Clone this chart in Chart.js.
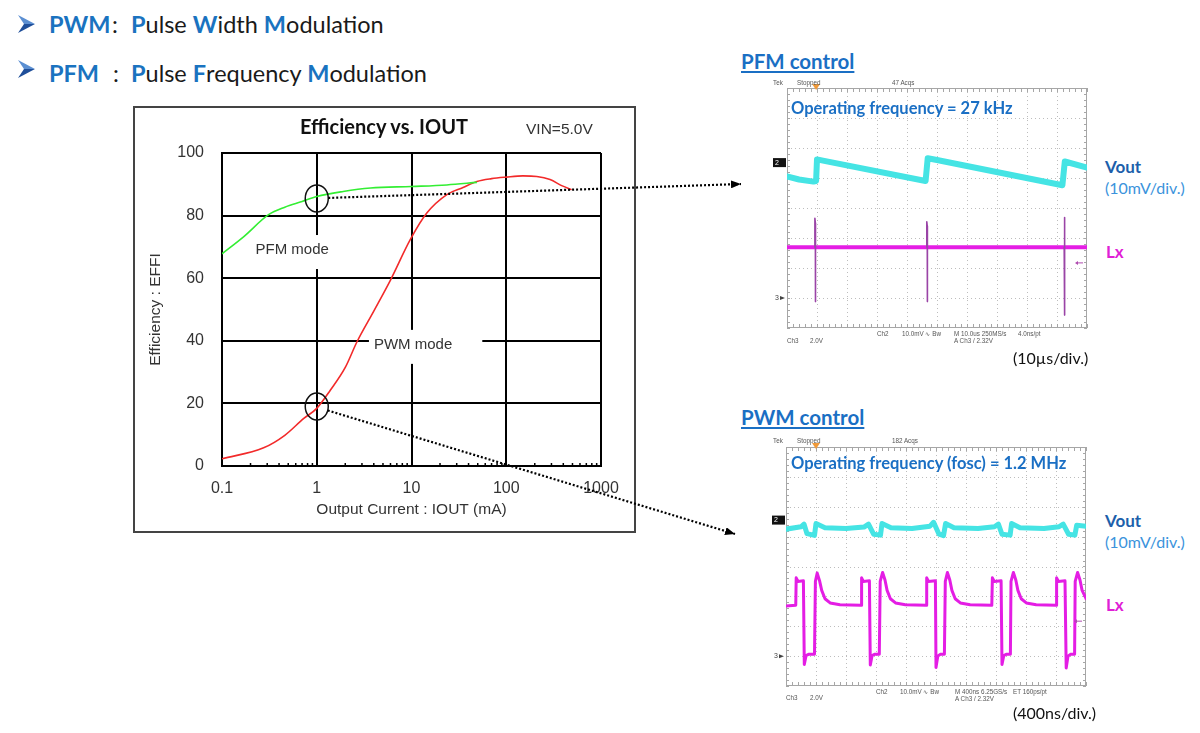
<!DOCTYPE html>
<html lang="en">
<head>
<meta charset="UTF-8">
<title>PWM / PFM</title>
<script src="https://cdn.jsdelivr.net/npm/chart.js@4"></script>
<style>
  body { margin: 0; width: 1200px; height: 733px; background: #fff; position: relative; overflow: hidden; font-family: Lato, sans-serif; }
  .abs { position: absolute; white-space: nowrap; }
  .row { font-size: 23.5px; line-height: 28px; color: #1a1a1a; }
  .hi { color: #1a73c0; font-weight: bold; }
  .blue { color: #1a6fc4; font-weight: bold; }
  .ctl { font-size: 20.5px; line-height: 22px; text-decoration: underline; text-underline-offset: 2px; text-decoration-thickness: 1.5px; }
  .freq { font-size: 16.5px; line-height: 20px; z-index: 3; }
  .vout { font-size: 17px; line-height: 20px; color: #1d5fab; font-weight: bold; }
  .div { font-size: 16px; line-height: 18px; color: #3b93dc; }
  .lx { font-size: 17px; line-height: 20px; color: #e020d6; font-weight: bold; }
  .tb { font-size: 16px; line-height: 18px; color: #111; }
  .sc { font-family: "Liberation Sans", sans-serif; font-size: 6.3px; line-height: 8px; color: #555; }
  .ea { font-family: "Liberation Sans", sans-serif; color: #333; }
  #effFrame { position: absolute; left: 133px; top: 106px; width: 503px; height: 427px; border: 2px solid #444; box-sizing: border-box; }
  #eff { position: absolute; left: 0; top: 0; }
  #arrows { position: absolute; left: 0; top: 0; z-index: 5; pointer-events: none; }
</style>
</head>
<body>
  <!-- bullets -->
  <svg class="abs" style="left:0;top:0" width="60" height="100">
    <polygon points="18,15 35,24 24,24" fill="#5b8fd2"/>
    <polygon points="24,24 35,24 18,33" fill="#1f4f9a"/>
    <polygon points="18,60 35,69 24,69" fill="#5b8fd2"/>
    <polygon points="24,69 35,69 18,78" fill="#1f4f9a"/>
  </svg>
  <div class="abs row hi" style="left:49px;top:10px">PWM</div>
  <div class="abs row" style="left:112px;top:10px">:</div>
  <div class="abs row" style="left:131px;top:10px"><span class="hi">P</span>ulse <span class="hi">W</span>idth <span class="hi">M</span>odulation</div>
  <div class="abs row hi" style="left:49px;top:59px">PFM</div>
  <div class="abs row" style="left:113px;top:59px">:</div>
  <div class="abs row" style="left:131px;top:59px"><span class="hi">P</span>ulse <span class="hi">F</span>requency <span class="hi">M</span>odulation</div>

  <!-- efficiency chart -->
  <div id="effFrame"><canvas id="eff" width="499" height="423"></canvas></div>
  <div class="abs" style="left:384px;top:114px;transform:translateX(-50%);font-size:20px;line-height:24px;font-weight:bold;color:#111">Efficiency vs. IOUT</div>
  <div class="abs ea" style="left:526px;top:120px;font-size:15.5px;line-height:18px">VIN=5.0V</div>

  <!-- PFM scope -->
  <div class="abs blue ctl" style="left:741px;top:50px">PFM control</div>
  <canvas id="pfm" class="abs" style="left:765px;top:76px" width="335" height="272"></canvas>
  <div class="abs blue freq" style="left:791px;top:98px">Operating frequency = 27 kHz</div>
  <div class="abs sc" style="left:773px;top:79px">Tek</div>
  <div class="abs sc" style="left:797px;top:79px">Stopped</div>
  <div class="abs sc" style="left:892px;top:79px">47 Acqs</div>
  <div class="abs sc" style="left:787px;top:337px">Ch3</div>
  <div class="abs sc" style="left:810px;top:337px">2.0V</div>
  <div class="abs sc" style="left:877px;top:330px">Ch2</div>
  <div class="abs sc" style="left:902px;top:330px">10.0mV ∿ Bw</div>
  <div class="abs sc" style="left:954px;top:330px">M 10.0us 250MS/s</div>
  <div class="abs sc" style="left:1018px;top:330px">4.0ns/pt</div>
  <div class="abs sc" style="left:954px;top:337px">A Ch3 / 2.32V</div>
  <div class="abs vout" style="left:1105px;top:157px">Vout</div>
  <div class="abs div" style="left:1105px;top:179px">(10mV/div.)</div>
  <div class="abs lx" style="left:1106px;top:242px">Lx</div>
  <div class="abs tb" style="left:1013px;top:349px">(10µs/div.)</div>

  <!-- PWM scope -->
  <div class="abs blue ctl" style="left:741px;top:406px">PWM control</div>
  <canvas id="pwm" class="abs" style="left:765px;top:432px" width="335" height="272"></canvas>
  <div class="abs blue freq" style="left:791px;top:453px">Operating frequency (fosc) = 1.2 MHz</div>
  <div class="abs sc" style="left:773px;top:437px">Tek</div>
  <div class="abs sc" style="left:797px;top:437px">Stopped</div>
  <div class="abs sc" style="left:892px;top:437px">182 Acqs</div>
  <div class="abs sc" style="left:786px;top:694px">Ch3</div>
  <div class="abs sc" style="left:810px;top:694px">2.0V</div>
  <div class="abs sc" style="left:876px;top:688px">Ch2</div>
  <div class="abs sc" style="left:900px;top:688px">10.0mV ∿ Bw</div>
  <div class="abs sc" style="left:955px;top:688px">M 400ns 6.25GS/s</div>
  <div class="abs sc" style="left:1013px;top:688px">ET 160ps/pt</div>
  <div class="abs sc" style="left:955px;top:695px">A Ch3 / 2.32V</div>
  <div class="abs vout" style="left:1105px;top:511px">Vout</div>
  <div class="abs div" style="left:1105px;top:533px">(10mV/div.)</div>
  <div class="abs lx" style="left:1106px;top:595px">Lx</div>
  <div class="abs tb" style="left:1013px;top:704px">(400ns/div.)</div>

  <svg id="arrows" width="1200" height="733">
    <defs>
      <marker id="head" markerWidth="10" markerHeight="8" refX="10" refY="4" orient="auto" markerUnits="userSpaceOnUse">
        <path d="M0,0 L10,4 L0,8 z" fill="#000"/>
      </marker>
    </defs>
    <line id="arrow0" stroke="#000" stroke-width="2.2" stroke-dasharray="2 2" marker-end="url(#head)"/>
    <line id="arrow1" stroke="#000" stroke-width="2.2" stroke-dasharray="2 2" marker-end="url(#head)"/>
  </svg>

<script>
  Chart.defaults.font.family = '"Liberation Sans", Arial, sans-serif';
  Chart.defaults.animation = false;

  // Efficiency vs IOUT (mA, %)
  const xTicks = [0.1, 1, 10, 100, 1000];
  const yTicks = [0, 20, 40, 60, 80, 100];
  const minorTicks = [0.2, 0.3, 0.4, 0.5, 0.6, 0.7, 0.8, 0.9, 2, 3, 4, 5, 6, 7, 8, 9,
    20, 30, 40, 50, 60, 70, 80, 90, 200, 300, 400, 500, 600, 700, 800, 900];
  const pfmCurrent = [0.1, 0.17, 0.31, 0.46, 0.7, 1.0, 1.9, 3.7, 10, 23.6, 49];
  const pfmEff = [67.8, 73.3, 80.3, 82.7, 84.5, 86.1, 87.7, 88.8, 89.3, 89.8, 90.6];
  const pwmCurrent = [0.1, 0.275, 0.46, 0.73, 1.0, 1.39, 2.0, 2.66, 4, 6.0, 9.7, 14.5, 23.6, 35, 49, 70, 100, 150, 210, 290, 390, 490];
  const pwmEff = [2.3, 5.8, 9.8, 15.2, 18.4, 24.2, 31.5, 39.7, 49.5, 59.4, 72.3, 80.8, 86.7, 89, 90.9, 91.8, 92.3, 92.7, 92.5, 91.5, 89.5, 88.3];
  const modeLabels = ['PFM mode', 'PWM mode'];
  const modeX = [0.55, 10.4];
  const modeY = [69, 38.7];
  const markerX = [1, 1];
  const markerY = [85.5, 19];
  const arrowEnds = [[741, 184], [735, 534]];

  // PFM scope: time in us, level in divisions
  const pfmVoutT = [0, 4, 8.8, 9.7, 10.0, 12, 46.2, 46.9, 50, 91.8, 92.6, 100];
  const pfmVoutV = [5.05, 4.95, 4.88, 4.9, 5.62, 5.58, 4.9, 5.66, 5.6, 4.76, 5.55, 5.35];
  const pfmLxT = [0, 100];
  const pfmLxV = [2.69, 2.69];
  const pfmSpikeT = [9.3, 9.3, 9.45, 9.45, 9.55, 30, 46.6, 46.6, 46.75, 46.75, 46.85, 70, 92.4, 92.4, 92.55, 92.55, 92.65];
  const pfmSpikeV = [2.69, 3.66, 3.5, 0.88, 2.69, null, 2.69, 3.54, 3.4, 0.88, 2.69, null, 2.69, 3.68, 3.5, 0.43, 2.69];

  // PWM scope: time in ns, level in divisions
  const pwmVoutT = [0, 200, 240, 280, 380, 400, 520, 800, 1040, 1100, 1168, 1260, 1280, 1400, 1680, 1920, 1968, 2040, 2100, 2128,
    2240, 2560, 2780, 2832, 2880, 2988, 3008, 3120, 3440, 3640, 3696, 3768, 3852, 3876, 4000];
  const pwmVoutV = [5.25, 5.33, 5.42, 5.1, 5.04, 5.44, 5.3, 5.27, 5.32, 5.42, 5.08, 5.05, 5.44, 5.3, 5.27, 5.35, 5.48, 5.08, 5.03, 5.44,
    5.3, 5.27, 5.33, 5.42, 5.08, 5.05, 5.44, 5.3, 5.27, 5.33, 5.42, 5.08, 5.05, 5.38, 5.35];
  const pwmLxT = [0, 130, 136, 160, 232, 244, 268, 300, 380, 392, 416, 448, 476, 520, 588, 720, 1000,
    1008, 1030, 1112, 1124, 1148, 1180, 1244, 1256, 1288, 1320, 1348, 1392, 1460, 1592, 1868,
    1876, 1900, 1992, 2000, 2024, 2056, 2112, 2124, 2152, 2184, 2212, 2256, 2324, 2456, 2744,
    2752, 2776, 2868, 2880, 2904, 2936, 2992, 3000, 3032, 3064, 3092, 3136, 3204, 3336, 3600,
    3608, 3632, 3720, 3736, 3760, 3792, 3848, 3856, 3888, 3920, 3948, 3996, 4000];
  const pwmLxV = [2.68, 2.7, 3.62, 3.5, 3.52, 0.72, 1.02, 1.06, 1.06, 3.5, 3.78, 3.52, 3.2, 2.92, 2.78, 2.72, 2.7,
    3.62, 3.5, 3.52, 0.7, 1.02, 1.06, 1.06, 3.5, 3.8, 3.55, 3.2, 2.92, 2.78, 2.72, 2.7,
    3.62, 3.5, 3.52, 0.62, 1.0, 1.06, 1.06, 3.5, 3.8, 3.55, 3.2, 2.92, 2.78, 2.72, 2.7,
    3.62, 3.5, 3.52, 0.72, 1.02, 1.06, 1.06, 3.5, 3.8, 3.55, 3.2, 2.92, 2.78, 2.72, 2.7,
    3.62, 3.5, 3.52, 0.6, 1.0, 1.06, 1.06, 3.5, 3.8, 3.55, 3.2, 2.95, 2.92];

  const pts = (xs, ys) => xs.map((v, i) => ({ x: v, y: ys[i] }));

  // minor ticks, white label boxes, circles and arrows on the efficiency chart
  const effDecor = {
    id: 'effDecor',
    beforeDatasetsDraw(chart) {
      const { ctx, scales: { x, y } } = chart;
      ctx.save();
      ctx.strokeStyle = '#000';
      ctx.lineWidth = 1.5;
      minorTicks.forEach(v => {
        const px = x.getPixelForValue(v);
        ctx.beginPath();
        ctx.moveTo(px, y.bottom);
        ctx.lineTo(px, y.bottom - 3);
        ctx.stroke();
      });
      ctx.font = '15px "Liberation Sans"';
      ctx.textAlign = 'center';
      ctx.textBaseline = 'middle';
      const pads = [[7, 7], [5, 30]];
      modeLabels.forEach((t, i) => {
        const px = x.getPixelForValue(modeX[i]);
        const py = y.getPixelForValue(modeY[i]);
        const w = ctx.measureText(t).width;
        ctx.fillStyle = '#fff';
        ctx.fillRect(px - w / 2 - pads[i][0], py - 15, w + pads[i][0] + pads[i][1], 34);
        ctx.fillStyle = '#333';
        ctx.fillText(t, px, py);
      });
      ctx.restore();
    },
    afterDraw(chart) {
      const { ctx, scales: { x, y } } = chart;
      const rect = chart.canvas.getBoundingClientRect();
      ctx.save();
      ctx.strokeStyle = '#111';
      ctx.lineWidth = 1.5;
      markerX.forEach((v, i) => {
        const cx = x.getPixelForValue(v);
        const cy = y.getPixelForValue(markerY[i]);
        ctx.beginPath();
        ctx.ellipse(cx, cy, 11.5, 13.5, 0, 0, 2 * Math.PI);
        ctx.stroke();
        const sx = rect.left + cx, sy = rect.top + cy;
        const [ex, ey] = arrowEnds[i];
        const ang = Math.atan2(ey - sy, ex - sx);
        const line = document.getElementById('arrow' + i);
        line.setAttribute('x1', sx + 11.5 * Math.cos(ang));
        line.setAttribute('y1', sy + 13.5 * Math.sin(ang));
        line.setAttribute('x2', ex);
        line.setAttribute('y2', ey);
      });
      ctx.restore();
    }
  };

  new Chart(document.getElementById('eff'), {
    type: 'line',
    data: {
      datasets: [
        { label: 'PFM', data: pts(pfmCurrent, pfmEff), borderColor: '#33ee33', borderWidth: 1.6, pointRadius: 0, cubicInterpolationMode: 'monotone' },
        { label: 'PWM', data: pts(pwmCurrent, pwmEff), borderColor: '#f22a2a', borderWidth: 1.6, pointRadius: 0, cubicInterpolationMode: 'monotone' }
      ]
    },
    options: {
      responsive: false,
      layout: { padding: { left: 0, top: 45, right: 33, bottom: 0 } },
      plugins: { legend: { display: false }, tooltip: { enabled: false } },
      scales: {
        x: {
          type: 'logarithmic', min: 0.1, max: 1000,
          afterBuildTicks: s => { s.ticks = xTicks.map(v => ({ value: v })); },
          afterFit: s => { s.height = 65; },
          ticks: { callback: v => String(v), color: '#333', font: { size: 16 }, padding: 13, maxRotation: 0, autoSkip: false },
          grid: { color: '#000', lineWidth: 2, drawTicks: false },
          border: { color: '#000', width: 2 },
          title: { display: true, text: 'Output Current : IOUT (mA)', color: '#333', font: { size: 15.5 }, padding: { top: 0, bottom: 12 } }
        },
        y: {
          min: 0, max: 100,
          afterBuildTicks: s => { s.ticks = yTicks.map(v => ({ value: v })); },
          afterFit: s => { s.width = 87; },
          ticks: { color: '#333', font: { size: 16 }, padding: 18 },
          grid: { color: '#000', lineWidth: 2, drawTicks: false },
          border: { color: '#000', width: 2 },
          title: { display: true, text: 'Efficiency : EFFI', color: '#333', font: { size: 15.5 }, padding: { top: 11, bottom: 0 } }
        }
      }
    },
    plugins: [effDecor]
  });

  // oscilloscope graticule and markers
  const scopeDecor = {
    id: 'scopeDecor',
    beforeDatasetsDraw(chart, args, o) {
      const { ctx, chartArea: a, scales: { x, y } } = chart;
      ctx.save();
      ctx.strokeStyle = '#bdbdbd';
      ctx.lineWidth = 1;
      ctx.setLineDash([1, 3]);
      for (let v = x.min + o.stepX; v < x.max - o.stepX / 2; v += o.stepX) {
        const px = Math.round(x.getPixelForValue(v)) + 0.5;
        ctx.beginPath(); ctx.moveTo(px, a.top); ctx.lineTo(px, a.bottom); ctx.stroke();
      }
      for (let v = y.min + 1; v < y.max - 0.5; v += 1) {
        const py = Math.round(y.getPixelForValue(v)) + 0.5;
        ctx.beginPath(); ctx.moveTo(a.left, py); ctx.lineTo(a.right, py); ctx.stroke();
      }
      ctx.setLineDash([]);
      ctx.strokeStyle = '#a6a6a6';
      ctx.strokeRect(a.left + 0.5, a.top + 0.5, a.width - 1, a.height - 1);
      for (let v = x.min; v <= x.max + 1e-6; v += o.stepX / 5) {
        const px = Math.round(x.getPixelForValue(v)) + 0.5;
        ctx.beginPath();
        ctx.moveTo(px, a.top); ctx.lineTo(px, a.top + 4);
        ctx.moveTo(px, a.bottom); ctx.lineTo(px, a.bottom - 4);
        ctx.stroke();
      }
      for (let v = y.min; v <= y.max + 1e-6; v += 0.2) {
        const py = Math.round(y.getPixelForValue(v)) + 0.5;
        ctx.beginPath();
        ctx.moveTo(a.left, py); ctx.lineTo(a.left + 3, py);
        ctx.moveTo(a.right, py); ctx.lineTo(a.right - 3, py);
        ctx.stroke();
      }
      ctx.restore();
    },
    afterDatasetsDraw(chart, args, o) {
      const { ctx, chartArea: a, scales: { x, y } } = chart;
      ctx.save();
      // trigger position
      const tx = x.getPixelForValue(o.trigX);
      ctx.fillStyle = '#f09a3a';
      ctx.beginPath();
      ctx.moveTo(tx - 4, a.top - 4); ctx.lineTo(tx + 4, a.top - 4); ctx.lineTo(tx, a.top + 2);
      ctx.closePath(); ctx.fill();
      // channel 2 reference
      const c2 = y.getPixelForValue(o.ch2Y);
      ctx.fillStyle = '#111';
      ctx.fillRect(a.left - 14, c2 - 4, 13, 9);
      ctx.fillStyle = '#fff';
      ctx.font = '7px "Liberation Sans"';
      ctx.textBaseline = 'middle';
      ctx.fillText('2', a.left - 12, c2 + 0.5);
      // channel 3 reference
      const c3 = y.getPixelForValue(o.ch3Y);
      ctx.fillStyle = '#444';
      ctx.fillText('3', a.left - 12, c3);
      ctx.beginPath();
      ctx.moveTo(a.left - 7, c3 - 2); ctx.lineTo(a.left - 2, c3); ctx.lineTo(a.left - 7, c3 + 2);
      ctx.closePath(); ctx.fill();
      // trigger level
      const tl = y.getPixelForValue(o.levelY);
      ctx.strokeStyle = '#b04bb0';
      ctx.fillStyle = '#b04bb0';
      ctx.lineWidth = 1;
      ctx.beginPath(); ctx.moveTo(a.right - 10, tl); ctx.lineTo(a.right - 4, tl); ctx.stroke();
      ctx.beginPath(); ctx.moveTo(a.right - 12, tl); ctx.lineTo(a.right - 9, tl - 2); ctx.lineTo(a.right - 9, tl + 2); ctx.closePath(); ctx.fill();
      ctx.restore();
    }
  };

  function scopeChart(id, datasets, xMax, stepX, marks, padding) {
    return new Chart(document.getElementById(id), {
      type: 'line',
      data: { datasets },
      options: {
        responsive: false,
        layout: { padding },
        plugins: { legend: { display: false }, tooltip: { enabled: false }, scopeDecor: Object.assign({ stepX }, marks) },
        scales: {
          x: { type: 'linear', min: 0, max: xMax, display: false },
          y: { min: 0, max: 8, display: false }
        },
        elements: { point: { radius: 0 }, line: { tension: 0, borderJoinStyle: 'round', borderCapStyle: 'round' } }
      },
      plugins: [scopeDecor]
    });
  }

  scopeChart('pfm', [
    { label: 'Lx spikes', data: pts(pfmSpikeT, pfmSpikeV), borderColor: '#9a44a6', borderWidth: 1.6, spanGaps: false, order: 0 },
    { label: 'Lx', data: pts(pfmLxT, pfmLxV), borderColor: '#e41de4', borderWidth: 4, order: 1 },
    { label: 'Vout', data: pts(pfmVoutT, pfmVoutV), borderColor: '#45e4e4', borderWidth: 6, order: 2 }
  ], 100, 10, { trigX: 9.7, ch2Y: 5.53, ch3Y: 1.0, levelY: 2.17 }, { left: 22, top: 12, right: 13, bottom: 20 });

  scopeChart('pwm', [
    { label: 'Lx', data: pts(pwmLxT, pwmLxV), borderColor: '#e41de4', borderWidth: 3, order: 0 },
    { label: 'Vout', data: pts(pwmVoutT, pwmVoutV), borderColor: '#45e4e4', borderWidth: 5, order: 1 }
  ], 4000, 400, { trigX: 400, ch2Y: 5.57, ch3Y: 1.0, levelY: 2.17 }, { left: 21, top: 15, right: 14, bottom: 18 });
</script>
</body>
</html>
